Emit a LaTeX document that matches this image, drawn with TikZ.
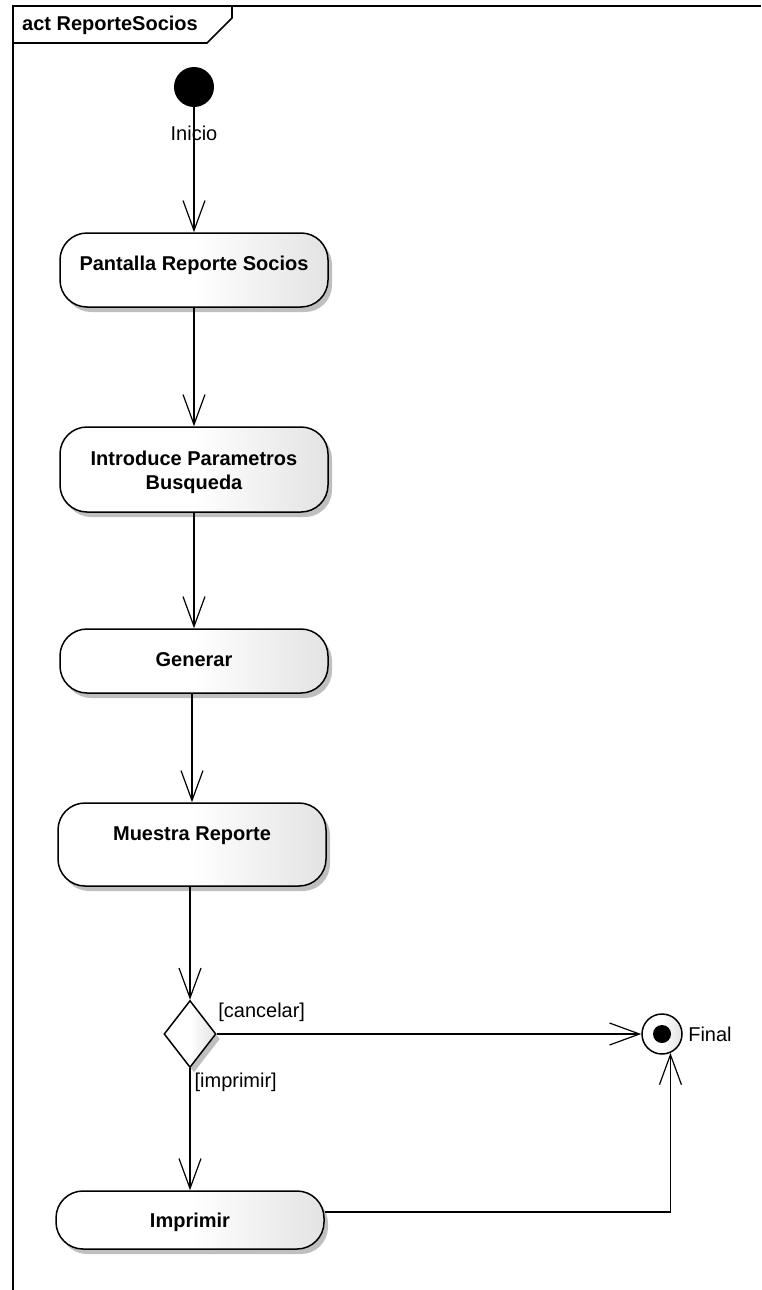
\documentclass[tikz,border=0pt]{standalone}
\usepackage{fontspec}
\setmainfont{Liberation Sans}
\usetikzlibrary{arrows.meta,shapes.geometric,shadows}

% left half white, right half fading to light grey
\pgfdeclarehorizontalshading{actfill}{100bp}{color(0bp)=(white); color(50bp)=(white); color(75bp)=(black!11); color(100bp)=(black!11)}

\tikzset{
  actbox/.style={draw, line width=1.5pt, rounded corners=27pt, minimum width=268pt,
    inner sep=0pt, text height=15pt, align=center, shading=actfill,
    font=\fontsize{20}{24}\selectfont\bfseries,
    drop shadow={shadow xshift=4pt, shadow yshift=-5pt, fill=black!25, opacity=1}},
  flow/.style={line width=1.2pt, -{Straight Barb[length=30pt, width=22pt]}},
  guard/.style={font=\fontsize{20}{24}\selectfont, inner sep=1pt}
}

\begin{document}
\begin{tikzpicture}[x=1pt, y=-1pt]

    % fix the page to the size of the reference
    \useasboundingbox (0,0) rectangle (761,1290);

    % Frame of the activity with its name tab
    \draw[line width=1.6pt] (13,1290) -- (13,6) -- (761,6);
    \draw[line width=1.6pt] (13,43) -- (207,43) -- (232,18) -- (232,6);
    \node[anchor=west, inner sep=0pt, font=\fontsize{20}{24}\selectfont\bfseries] (frm) at (22,25) {act ReporteSocios};

    % Initial node with its name below
    \node[circle, fill=black, minimum size=40pt, inner sep=0pt,
      label={[font=\fontsize{20}{24}\selectfont, label distance=15pt]below:Inicio}] (ini) at (194,87) {};

    % The actions, one under the other
    \node[actbox, minimum height=74pt, text depth=15pt] (pant) at (194,270) {Pantalla Reporte Socios};
    \node[actbox, minimum height=85pt, text height=40pt, text depth=1pt] (intro) at (194,469.5) {Introduce Parametros\\Busqueda};
    \node[actbox, minimum height=64pt, text depth=5pt] (gen) at (194,661) {Generar};
    \node[actbox, minimum height=83pt, text depth=24pt] (mue) at (192,844.5) {Muestra Reporte};

    % Decision between printing and cancelling
    \node[diamond, draw, line width=1.5pt, minimum width=52pt, minimum height=67pt, inner sep=0pt,
      shading=actfill, drop shadow={shadow xshift=4pt, shadow yshift=-5pt, fill=black!25, opacity=1}] (dec) at (190,1034) {};

    % Last action and the final node
    \node[actbox, minimum height=58pt, text depth=0pt] (imp) at (190,1220) {Imprimir};
    \node[circle, draw, line width=1.5pt, minimum size=40pt, inner sep=0pt, shading=actfill,
      path picture={\fill (path picture bounding box.center) circle (9pt);},
      label={[font=\fontsize{20}{24}\selectfont, label distance=2pt]right:Final}] (fin) at (662,1034) {};

    % Control flows
    \draw[flow] (ini) -- (pant);
    \draw[flow] (pant) -- (intro);
    \draw[flow] (intro) -- (gen);
    \draw[flow] (gen.south -| mue.north) -- (mue.north);
    \draw[flow] (mue.south -| dec.north) -- (dec.north);
    \draw[flow] (dec.east) -- node[guard, at start, anchor=south west, yshift=11pt] {[cancelar]} (fin.west);
    \draw[flow] (dec.south) -- node[guard, at start, anchor=north west, xshift=3pt, yshift=-3pt] {[imprimir]} (imp.north);
    \draw[flow] ([yshift=8pt]imp.east) -| (fin.-66);

\end{tikzpicture}
\end{document}
